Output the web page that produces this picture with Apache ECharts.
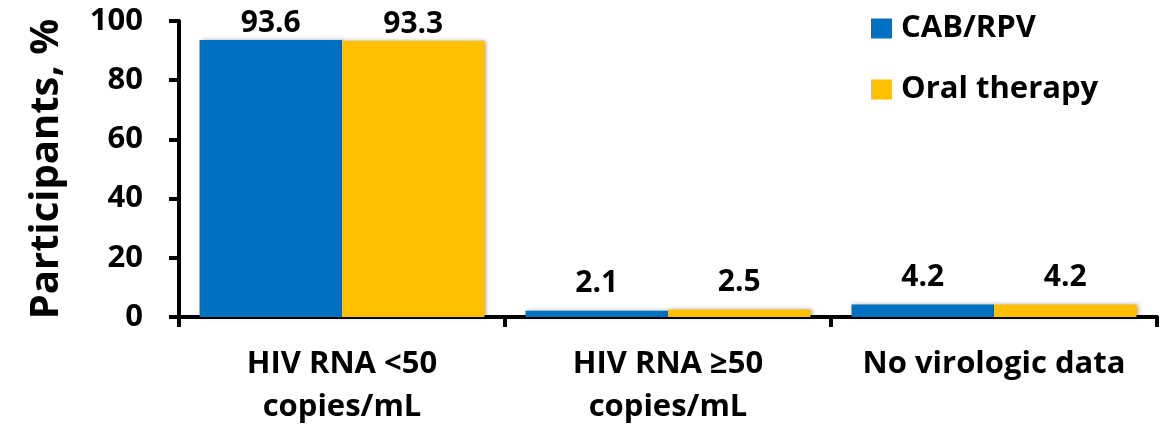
<!DOCTYPE html>
<html>
<head>
<meta charset="utf-8">
<script src="https://cdn.jsdelivr.net/npm/echarts@6/dist/echarts.min.js"></script>
<style>
  html, body { margin: 0; padding: 0; background: #fff; }
  #chart { width: 1163px; height: 429px; }
</style>
</head>
<body>
<div id="chart"></div>
<script>
// Virologic outcome categories and percentages per treatment arm
const categories = ['HIV RNA <50\ncopies/mL', 'HIV RNA \u226550\ncopies/mL', 'No virologic data'];
const cabRpv = [93.6, 2.1, 4.2];
const oralTherapy = [93.3, 2.5, 4.2];
const seriesNames = ['CAB/RPV', 'Oral therapy'];

// gap between each value label and its bar, per category
const labelDistance = [1, 12, 12];

const FONT = '"Open Sans", Lato, sans-serif';
const barShadow = { shadowColor: 'rgba(0,0,0,0.35)', shadowBlur: 4, shadowOffsetX: 2, shadowOffsetY: 0 };

const chart = echarts.init(document.getElementById('chart'), null, { renderer: 'canvas' });

function barSeries(name, values, color) {
  return {
    name: name,
    type: 'bar',
    data: values.map((v, i) => ({ value: v, label: { distance: labelDistance[i] } })),
    barGap: '0%',
    barCategoryGap: '12.6%',
    itemStyle: Object.assign({ color: color }, barShadow),
    label: {
      show: true,
      position: 'top',
      color: '#000',
      fontFamily: FONT,
      fontWeight: 'bold',
      fontSize: 30,
      formatter: p => p.value.toFixed(1)
    }
  };
}

chart.setOption({
  animation: false,
  backgroundColor: '#fff',
  grid: { left: 179, right: 6, top: 21, bottom: 109, containLabel: false },
  legend: {
    orient: 'vertical',
    left: 871,
    top: 13,
    padding: 0,
    itemWidth: 21,
    itemHeight: 20,
    itemGap: 30,
    icon: 'rect',
    textStyle: { color: '#000', fontFamily: FONT, fontWeight: 'bold', fontSize: 31, lineHeight: 30, padding: [0, 0, 0, 4] },
    data: seriesNames
  },
  xAxis: {
    type: 'category',
    data: categories,
    axisLine: { lineStyle: { color: '#000', width: 4 } },
    axisTick: { show: true, length: 10, lineStyle: { color: '#000', width: 4 } },
    axisLabel: {
      color: '#000',
      fontFamily: FONT,
      fontWeight: 'bold',
      fontSize: 31,
      lineHeight: 43,
      margin: 26,
      interval: 0
    }
  },
  yAxis: {
    type: 'value',
    min: 0,
    max: 100,
    interval: 20,
    name: 'Participants, %',
    nameLocation: 'middle',
    nameGap: 112,
    nameTextStyle: { color: '#000', fontFamily: FONT, fontWeight: 'bold', fontSize: 40 },
    splitLine: { show: false },
    axisLine: { show: true, lineStyle: { color: '#000', width: 4 } },
    axisTick: { show: true, length: 10, lineStyle: { color: '#000', width: 4 } },
    axisLabel: {
      color: '#000',
      fontFamily: FONT,
      fontWeight: 'bold',
      fontSize: 31,
      margin: 36
    }
  },
  series: [
    barSeries(seriesNames[0], cabRpv, '#0070C0'),
    barSeries(seriesNames[1], oralTherapy, '#FFC000')
  ]
});
</script>
</body>
</html>
